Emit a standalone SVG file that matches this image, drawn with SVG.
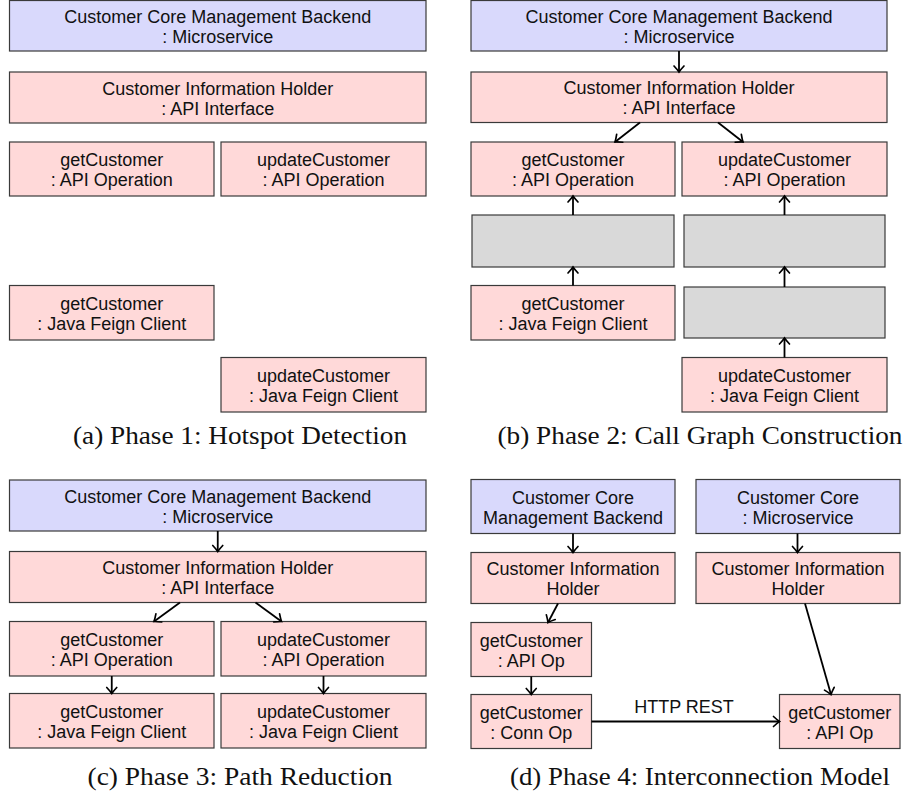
<svg xmlns="http://www.w3.org/2000/svg" width="907" height="798" viewBox="0 0 907 798">
  <style>
    .node rect { stroke: #3a3a3a; stroke-width: 1.2; }
    .ms rect { fill: #d9d9fc; }
    .comp rect { fill: #ffd9d9; }
    .gap rect { fill: #d9d9d9; }
    .node text, .lbl { font-family: "Liberation Sans", Arial, sans-serif; font-size: 18px; fill: #111; text-anchor: middle; }
    .cap { font-family: "Liberation Serif", "Times New Roman", serif; font-size: 25px; fill: #111; text-anchor: middle; }
    .edge { stroke: #000; stroke-width: 1.8; fill: none; marker-end: url(#tip); }
    .edge.thick { stroke-width: 2.2; }
  </style>
  <defs>
    <marker id="tip" markerUnits="userSpaceOnUse" viewBox="-8 -7 10 14" refX="0" refY="0" markerWidth="10" markerHeight="14" orient="auto" overflow="visible">
      <path d="M-6,-5 Q-2,-1.3 0,0 Q-2,1.3 -6,5" fill="none" stroke="#000" stroke-width="1.7" stroke-linecap="round"/>
    </marker>
  </defs>
  <rect width="907" height="798" fill="#fff"/>

  <!-- (a) hotspot detection -->
  <g id="a-ms" class="node ms"><rect x="9.5" y="0.5" width="416.5" height="50.5"/>
    <text x="217.75" y="22.75">Customer Core Management Backend</text><text x="217.75" y="42.75">: Microservice</text></g>
  <g id="a-holder" class="node comp"><rect x="9.5" y="72" width="416.5" height="51"/>
    <text x="217.75" y="94.5">Customer Information Holder</text><text x="217.75" y="114.5">: API Interface</text></g>
  <g id="a-get-op" class="node comp"><rect x="9.5" y="142" width="204.5" height="54"/>
    <text x="111.75" y="166">getCustomer</text><text x="111.75" y="186">: API Operation</text></g>
  <g id="a-upd-op" class="node comp"><rect x="221" y="142" width="205" height="54"/>
    <text x="323.5" y="166">updateCustomer</text><text x="323.5" y="186">: API Operation</text></g>
  <g id="a-get-feign" class="node comp"><rect x="9.5" y="285.5" width="204.5" height="54.5"/>
    <text x="111.75" y="309.75">getCustomer</text><text x="111.75" y="329.75">: Java Feign Client</text></g>
  <g id="a-upd-feign" class="node comp"><rect x="221" y="357.5" width="205" height="54.5"/>
    <text x="323.5" y="381.75">updateCustomer</text><text x="323.5" y="401.75">: Java Feign Client</text></g>
  <text class="cap" x="240" y="444" textLength="334" lengthAdjust="spacingAndGlyphs">(a) Phase 1: Hotspot Detection</text>

  <!-- (b) call graph construction -->
  <g id="b-ms" class="node ms"><rect x="471" y="0.5" width="416" height="50.5"/>
    <text x="679" y="22.75">Customer Core Management Backend</text><text x="679" y="42.75">: Microservice</text></g>
  <g id="b-holder" class="node comp"><rect x="471" y="72" width="416" height="50.5"/>
    <text x="679" y="94.25">Customer Information Holder</text><text x="679" y="114.25">: API Interface</text></g>
  <g id="b-get-op" class="node comp"><rect x="471" y="142" width="204" height="54"/>
    <text x="573" y="166">getCustomer</text><text x="573" y="186">: API Operation</text></g>
  <g id="b-upd-op" class="node comp"><rect x="682" y="142" width="205" height="54"/>
    <text x="784.5" y="166">updateCustomer</text><text x="784.5" y="186">: API Operation</text></g>
  <g id="b-gap1" class="node gap"><rect x="472" y="215" width="202" height="52"/></g>
  <g id="b-gap2" class="node gap"><rect x="684" y="215" width="201" height="52"/></g>
  <g id="b-get-feign" class="node comp"><rect x="471" y="285.5" width="204" height="54.5"/>
    <text x="573" y="309.75">getCustomer</text><text x="573" y="329.75">: Java Feign Client</text></g>
  <g id="b-gap3" class="node gap"><rect x="684" y="287" width="201" height="51"/></g>
  <g id="b-upd-feign" class="node comp"><rect x="682" y="357.5" width="205" height="54.5"/>
    <text x="784.5" y="381.75">updateCustomer</text><text x="784.5" y="401.75">: Java Feign Client</text></g>
  <text class="cap" x="700" y="444" textLength="405" lengthAdjust="spacingAndGlyphs">(b) Phase 2: Call Graph Construction</text>

  <!-- (c) path reduction -->
  <g id="c-ms" class="node ms"><rect x="9.5" y="480" width="416.5" height="51"/>
    <text x="217.75" y="502.5">Customer Core Management Backend</text><text x="217.75" y="522.5">: Microservice</text></g>
  <g id="c-holder" class="node comp"><rect x="9.5" y="551.5" width="416.5" height="51"/>
    <text x="217.75" y="574">Customer Information Holder</text><text x="217.75" y="594">: API Interface</text></g>
  <g id="c-get-op" class="node comp"><rect x="9.5" y="621.5" width="204.5" height="54.5"/>
    <text x="111.75" y="645.75">getCustomer</text><text x="111.75" y="665.75">: API Operation</text></g>
  <g id="c-upd-op" class="node comp"><rect x="221" y="621.5" width="205" height="54.5"/>
    <text x="323.5" y="645.75">updateCustomer</text><text x="323.5" y="665.75">: API Operation</text></g>
  <g id="c-get-feign" class="node comp"><rect x="9.5" y="693.5" width="204.5" height="54.5"/>
    <text x="111.75" y="717.75">getCustomer</text><text x="111.75" y="737.75">: Java Feign Client</text></g>
  <g id="c-upd-feign" class="node comp"><rect x="221" y="693.5" width="205" height="54.5"/>
    <text x="323.5" y="717.75">updateCustomer</text><text x="323.5" y="737.75">: Java Feign Client</text></g>
  <text class="cap" x="240" y="785" textLength="305" lengthAdjust="spacingAndGlyphs">(c) Phase 3: Path Reduction</text>

  <!-- (d) interconnection model -->
  <g id="d-ms-backend" class="node ms"><rect x="471" y="479.5" width="204" height="54"/>
    <text x="573" y="503.5">Customer Core</text><text x="573" y="523.5">Management Backend</text></g>
  <g id="d-ms-core" class="node ms"><rect x="696" y="479.5" width="204" height="54"/>
    <text x="798" y="503.5">Customer Core</text><text x="798" y="523.5">: Microservice</text></g>
  <g id="d-holder-backend" class="node comp"><rect x="471" y="552.5" width="204" height="51"/>
    <text x="573" y="575">Customer Information</text><text x="573" y="595">Holder</text></g>
  <g id="d-holder-core" class="node comp"><rect x="696" y="552.5" width="204" height="51"/>
    <text x="798" y="575">Customer Information</text><text x="798" y="595">Holder</text></g>
  <g id="d-api-op" class="node comp"><rect x="471" y="622.5" width="120.5" height="54"/>
    <text x="531.25" y="646.5">getCustomer</text><text x="531.25" y="666.5">: API Op</text></g>
  <g id="d-conn-op" class="node comp"><rect x="471" y="694.5" width="120.5" height="54"/>
    <text x="531.25" y="718.5">getCustomer</text><text x="531.25" y="738.5">: Conn Op</text></g>
  <g id="d-target-op" class="node comp"><rect x="779.5" y="694.5" width="120.5" height="54"/>
    <text x="839.75" y="718.5">getCustomer</text><text x="839.75" y="738.5">: API Op</text></g>
  <text class="cap" x="700" y="785" textLength="380" lengthAdjust="spacingAndGlyphs">(d) Phase 4: Interconnection Model</text>

  <g id="connectors">
    <!-- (b) -->
    <line class="edge" x1="679" y1="51" x2="679" y2="72"/>
    <line class="edge" x1="640" y1="122.5" x2="615" y2="142"/>
    <line class="edge" x1="718" y1="122.5" x2="743" y2="142"/>
    <line class="edge" x1="573" y1="215" x2="573" y2="196"/>
    <line class="edge" x1="573" y1="285.5" x2="573" y2="267"/>
    <line class="edge" x1="784.5" y1="215" x2="784.5" y2="196"/>
    <line class="edge" x1="784.5" y1="287" x2="784.5" y2="267"/>
    <line class="edge" x1="784.5" y1="357.5" x2="784.5" y2="338"/>
    <!-- (c) -->
    <line class="edge" x1="217.75" y1="531" x2="217.75" y2="551.5"/>
    <line class="edge" x1="180" y1="602.5" x2="154" y2="621.5"/>
    <line class="edge" x1="255.5" y1="602.5" x2="281.5" y2="621.5"/>
    <line class="edge" x1="111.75" y1="676" x2="111.75" y2="693.5"/>
    <line class="edge" x1="323.5" y1="676" x2="323.5" y2="693.5"/>
    <!-- (d) -->
    <line class="edge" x1="573" y1="533.5" x2="573" y2="552.5"/>
    <line class="edge" x1="797.5" y1="533.5" x2="797.5" y2="552.5"/>
    <line class="edge" x1="558" y1="603.5" x2="548" y2="622.5"/>
    <line class="edge" x1="531.25" y1="676.5" x2="531.25" y2="694.5"/>
    <line class="edge" x1="805" y1="603.5" x2="831" y2="694.5"/>
    <line class="edge thick" x1="591.5" y1="721.5" x2="779.5" y2="721.5"/>
    <text class="lbl" x="684" y="712.5">HTTP REST</text>
  </g>
</svg>
